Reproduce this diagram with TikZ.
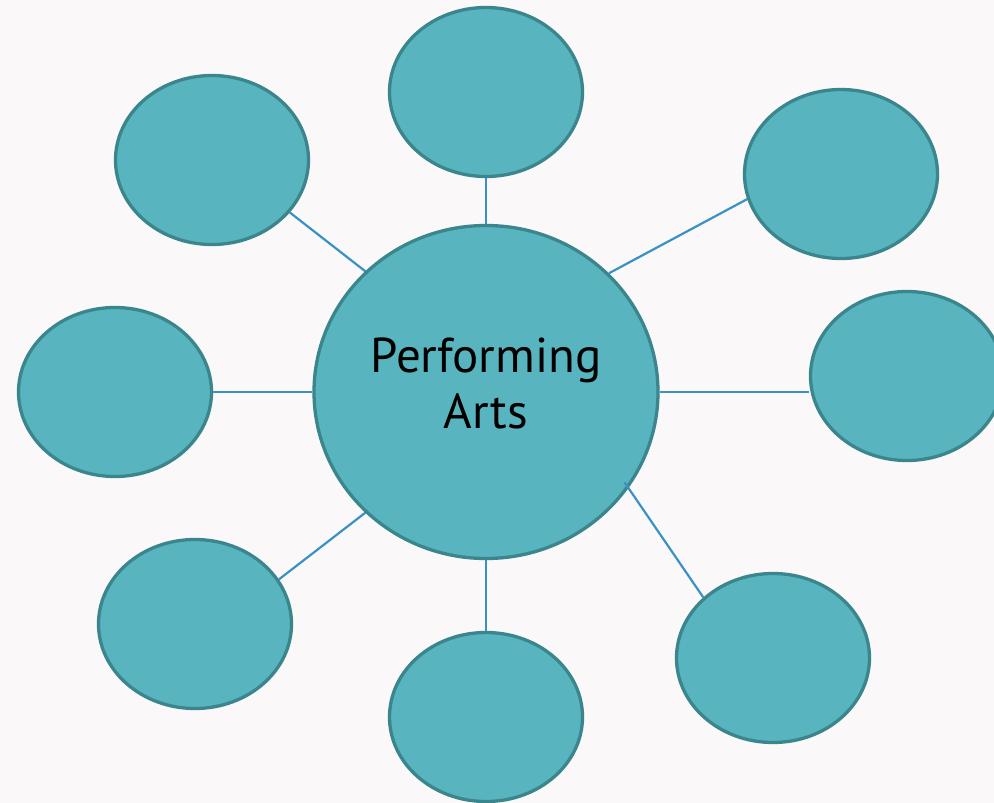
\documentclass[tikz,border=0pt]{standalone}
\usepackage{fontspec}
\setmainfont{PT Sans}
\usetikzlibrary{shapes.geometric}
\definecolor{bubble}{HTML}{58B5BF}
\definecolor{rim}{HTML}{3B868D}
\definecolor{link}{HTML}{3A92C4}
\definecolor{bgc}{HTML}{FAF8F8}
\tikzset{
  bub/.style={ellipse, draw=rim, fill=bubble, line width=3.3pt, inner sep=0pt,
    minimum width=193pt, minimum height=169pt},
  hub/.style={ellipse, draw=rim, fill=bubble, line width=3.3pt, inner sep=0pt,
    minimum width=344pt, minimum height=333pt},
  conn/.style={draw=link, line width=2.2pt},
  lbl/.style={align=center, font=\fontsize{49}{56}\selectfont, text=black, inner sep=0pt}
}
\begin{document}
\begin{tikzpicture}[x=1pt,y=-1pt]
\fill[bgc] (0,0) rectangle (994,803);
\useasboundingbox (0,0) rectangle (994,803);
\node[hub] (c) at (486,392) {};
\node[bub] (n)  at (486,92) {};
\node[bub] (nw) at (212,160) {};
\node[bub] (ne) at (841,174) {};
\node[bub] (e)  at (907,376) {};
\node[bub] (w)  at (115,392) {};
\node[bub] (sw) at (195,624) {};
\node[bub] (s)  at (486,717) {};
\node[bub] (se) at (773,658) {};
\node[lbl] (t) at ([yshift=9pt]c.center) {Performing\\Arts};
\draw[conn] (c.north) -- (n.south);
\draw[conn] (c.south) -- (s.north);
\draw[conn] (c.west) -- (w.east |- c.west);
\draw[conn] (c.east) -- (e.west |- c.east);
\draw[conn] (c.135.9) -- (nw.-34.9);
\draw[conn] (c.44.3) -- (ne.-165.8);
\draw[conn] (c.-135.9) -- (sw.28.9);
\draw[conn, shorten >=-7pt] (se.139.7) -- (c.-34.8);
\end{tikzpicture}
\end{document}
